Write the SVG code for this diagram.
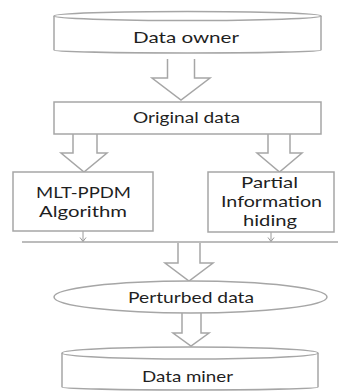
<svg xmlns="http://www.w3.org/2000/svg" width="338" height="392" viewBox="0 0 338 392">
<style>
.s{fill:#fff;stroke:#a6a6a6;stroke-width:1.5}
.a{fill:none;stroke:#a6a6a6;stroke-width:1.5;stroke-linejoin:miter}
.sm{fill:none;stroke:#9a9a9a;stroke-width:1}
.t{font-family:Lato,"Liberation Sans",sans-serif;font-size:15px;fill:#1f1f1f}
</style>
<rect width="338" height="392" fill="#fff"/>
<g id="connectors">
<path class="a" d="M167.5,59 V78 H152 L181,100 L210,78 H194.5 V59"/>
<path class="a" d="M73,134 V153 H61 L84,172 L107,153 H97 V134"/>
<path class="a" d="M268,134 V153 H257 L279.5,172 L302,153 H290 V134"/>
<path class="sm" d="M83,231 V241.5 M80,237.5 L83,241.5 L86,237.5"/>
<path class="sm" d="M271,232 V241.5 M268,237.5 L271,241.5 L274,237.5"/>
<line x1="22" y1="242" x2="338" y2="242" stroke="#a6a6a6" stroke-width="1.5"/>
<path class="a" d="M178,243 V263 H165 L189,281 L213,263 H200 V243"/>
<path class="a" d="M182,313 V333 H173 L191,346 L209,333 H201 V313"/>
</g>
<g id="data-owner">
<path class="s" d="M54,16 V50 A133.5,3 0 0 0 321,50 V16"/>
<ellipse class="s" cx="187.5" cy="16" rx="133.5" ry="4.5"/>
<text class="t" x="133" y="43" textLength="106" lengthAdjust="spacingAndGlyphs">Data owner</text>
</g>
<g id="original-data">
<rect class="s" x="54" y="102" width="267" height="32"/>
<text class="t" x="133" y="123" textLength="107" lengthAdjust="spacingAndGlyphs">Original data</text>
</g>
<g id="mlt-ppdm">
<rect class="s" x="13" y="172" width="140" height="59"/>
<text class="t" x="36" y="198" textLength="95" lengthAdjust="spacingAndGlyphs">MLT-PPDM</text>
<text class="t" x="39" y="217" textLength="88" lengthAdjust="spacingAndGlyphs">Algorithm</text>
</g>
<g id="partial-info">
<rect class="s" x="208" y="172" width="126" height="60"/>
<text class="t" x="241" y="188" textLength="57" lengthAdjust="spacingAndGlyphs">Partial</text>
<text class="t" x="221" y="207" textLength="101" lengthAdjust="spacingAndGlyphs">Information</text>
<text class="t" x="243" y="226" textLength="54" lengthAdjust="spacingAndGlyphs">hiding</text>
</g>
<g id="perturbed-data">
<ellipse class="s" cx="190.5" cy="297" rx="136.5" ry="16"/>
<text class="t" x="128" y="303" textLength="126" lengthAdjust="spacingAndGlyphs">Perturbed data</text>
</g>
<g id="data-miner">
<path class="s" d="M62,353 V387 A128,3 0 0 0 318,387 V353"/>
<ellipse class="s" cx="190" cy="353" rx="128" ry="6"/>
<text class="t" x="142" y="382" textLength="91" lengthAdjust="spacingAndGlyphs">Data miner</text>
</g>
</svg>
